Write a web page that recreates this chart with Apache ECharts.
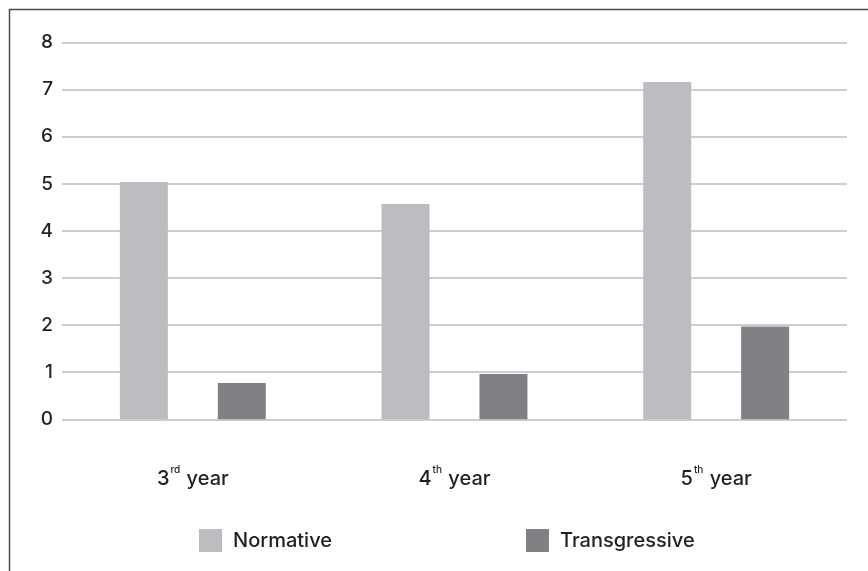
<!DOCTYPE html>
<html>
<head>
<meta charset="utf-8">
<script src="https://cdn.jsdelivr.net/npm/echarts@6/dist/echarts.min.js"></script>
<style>
html,body{margin:0;padding:0;background:#fff;}
#c{width:868px;height:571px;}
</style>
</head>
<body>
<div id="c"></div>
<script>
var categories = ['3rd year', '4th year', '5th year'];
var normative = [5.04, 4.57, 7.16];
var transgressive = [0.77, 0.96, 1.97];
var yTicks = [0, 1, 2, 3, 4, 5, 6, 7, 8];

var FONT = 'Inter';
var chart = echarts.init(document.getElementById('c'));
chart.setOption({
  backgroundColor: '#fff',
  animation: false,
  textStyle: { fontFamily: FONT },
  graphic: [{
    type: 'polyline',
    shape: { points: [[9.5, 571], [9.5, 9.5], [868, 9.5]] },
    style: { stroke: '#4a4a4a', lineWidth: 1.5, fill: null }
  }],
  legend: [{
    data: ['Normative'],
    left: 194, top: 524,
    itemWidth: 23, itemHeight: 23,
    icon: 'rect',
    textStyle: { fontSize: 20, fontWeight: 500, color: '#231f20', fontFamily: FONT, padding: [0, 0, 0, 6] }
  }, {
    data: ['Transgressive'],
    left: 521, top: 524,
    itemWidth: 23, itemHeight: 23,
    icon: 'rect',
    textStyle: { fontSize: 20, fontWeight: 500, color: '#231f20', fontFamily: FONT, padding: [0, 0, 0, 6] }
  }],
  grid: { left: 62, right: 21, top: 42.5, bottom: 151.7, containLabel: false },
  xAxis: {
    type: 'category',
    data: categories,
    axisLine: { show: false },
    axisTick: { show: false },
    axisLabel: {
      margin: 46,
      formatter: function (v) {
        var m = v.match(/^(\d+)(\w+)( .*)$/);
        return '{b|' + m[1] + '}{s|' + m[2] + '}{b|' + m[3] + '}';
      },
      rich: {
        b: { fontSize: 20, fontWeight: 500, color: '#231f20', fontFamily: FONT, lineHeight: 24, verticalAlign: 'bottom' },
        s: { fontSize: 10, fontWeight: 500, color: '#231f20', fontFamily: FONT, lineHeight: 24, verticalAlign: 'top', padding: [0, 1, 9, 1] }
      }
    }
  },
  yAxis: {
    type: 'value',
    min: 0, max: 8, interval: 1,
    axisLine: { show: false },
    axisTick: { show: false },
    axisLabel: {
      margin: 9,
      fontSize: 19, fontWeight: 500, color: '#231f20', fontFamily: FONT,
      formatter: function (v) { return yTicks.indexOf(v) >= 0 ? String(v) : ''; }
    },
    splitLine: { lineStyle: { color: '#bcbdc0', width: 1.5 } }
  },
  series: [{
    name: 'Normative',
    type: 'bar',
    data: normative,
    barWidth: 48,
    barGap: '104%',
    itemStyle: { color: '#bcbdc0' }
  }, {
    name: 'Transgressive',
    type: 'bar',
    data: transgressive,
    barWidth: 48,
    itemStyle: { color: '#808184' }
  }]
});
</script>
</body>
</html>
